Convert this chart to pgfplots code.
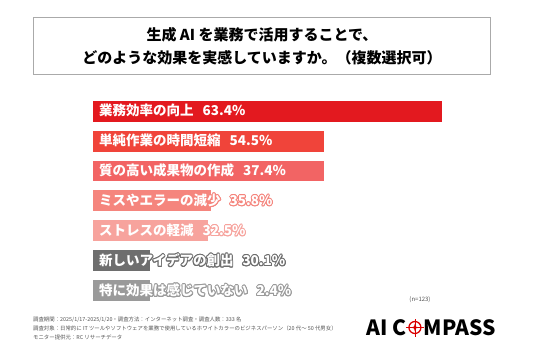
\documentclass[border=0pt]{standalone}
\usepackage{pgfplots}
\pgfplotsset{compat=1.18}
\usepackage{fontspec}
\setmainfont{Noto Sans CJK JP}
\usepackage{contour}
\contourlength{0.9pt}
\contournumber{16}
\definecolor{c1}{HTML}{E3191F}
\definecolor{c2}{HTML}{F0443A}
\definecolor{c3}{HTML}{F26464}
\definecolor{c4}{HTML}{F5857D}
\definecolor{c5}{HTML}{F7A39D}
\definecolor{c6}{HTML}{6E6E6E}
\definecolor{c7}{HTML}{9A9A9A}
\definecolor{boxgray}{HTML}{AAAAAA}
\definecolor{notegray}{HTML}{555555}
\begin{document}
\begin{tikzpicture}
\fill[white] (0,0) rectangle (536pt,357pt);
\path[use as bounding box] (0,0) rectangle (536pt,357pt);
% title box
\draw[boxgray, line width=0.9pt] (33pt,340pt) rectangle (490pt,283pt);
\node[font=\bfseries\fontsize{15}{18}\selectfont, inner sep=0] at (262pt,322pt) {生成 AI を業務で活用することで、};
\node[font=\bfseries\fontsize{15}{18}\selectfont, inner sep=0] at (262pt,299pt) {どのような効果を実感していますか。（複数選択可）};
\begin{axis}[at={(93pt,261pt)}, anchor=north west, scale only axis,
  width=350pt, height=210pt, xmin=0, xmax=350, ymin=-0.5, ymax=6.5,
  y dir=reverse, hide axis, xbar, bar width=0.7, clip=false]
% bar lengths as drawn (px); percentages shown in labels
\addplot[xbar, bar shift=0pt, fill=c1, draw=none] coordinates {(349,0)};
\addplot[xbar, bar shift=0pt, fill=c2, draw=none] coordinates {(231,1)};
\addplot[xbar, bar shift=0pt, fill=c3, draw=none] coordinates {(231,2)};
\addplot[xbar, bar shift=0pt, fill=c4, draw=none] coordinates {(118,3)};
\addplot[xbar, bar shift=0pt, fill=c5, draw=none] coordinates {(115,4)};
\addplot[xbar, bar shift=0pt, fill=c6, draw=none] coordinates {(57,5)};
\addplot[xbar, bar shift=0pt, fill=c7, draw=none] coordinates {(57,6)};
\tikzset{lab/.style={anchor=west, inner sep=0, text=white, font=\bfseries\fontsize{13.5}{14}\selectfont}}
\node[lab] at (axis cs:0,0) {\hspace*{6pt}\contour{c1}{業務効率の向上\hspace{9pt}63.4\%}};
\node[lab] at (axis cs:0,1) {\hspace*{6pt}\contour{c2}{単純作業の時間短縮\hspace{9pt}54.5\%}};
\node[lab] at (axis cs:0,2) {\hspace*{6pt}\contour{c3}{質の高い成果物の作成\hspace{9pt}37.4\%}};
\node[lab] at (axis cs:0,3) {\hspace*{6pt}\contour{c4}{ミスやエラーの減少\hspace{9pt}35.8\%}};
\node[lab] at (axis cs:0,4) {\hspace*{6pt}\contour{c5}{ストレスの軽減\hspace{9pt}32.5\%}};
\node[lab] at (axis cs:0,5) {\hspace*{6pt}\contour{c6}{新しいアイデアの創出\hspace{9pt}30.1\%}};
\node[lab] at (axis cs:0,6) {\hspace*{6pt}\contour{c7}{特に効果は感じていない\hspace{9pt}2.4\%}};
\end{axis}
\node[font=\fontsize{6}{7}\selectfont, inner sep=0, text=notegray] at (420pt,57pt) {(n=123)};
% footer
\begin{scope}[every node/.style={anchor=west, inner sep=0, text=notegray, font=\fontsize{5.4}{6}\selectfont}]
\node at (33pt,37pt) {調査期間：2025/1/17-2025/1/20・調査方法：インターネット調査・調査人数：333 名};
\node at (33pt,28.5pt) {調査対象：日常的に IT ツールやソフトウェアを業務で使用しているホワイトカラーのビジネスパーソン（20 代～ 50 代男女）};
\node at (33pt,20pt) {モニター提供元：RC リサーチデータ};
\end{scope}
% logo
\node[anchor=base west, inner sep=0, font=\bfseries\fontsize{21}{21}\selectfont] (a) at (366pt,22pt) {AI C};
\node[anchor=base west, inner sep=0, font=\bfseries\fontsize{21}{21}\selectfont] (b) at ([xshift=17pt]a.base east) {MPASS};
\begin{scope}[shift={([xshift=8.5pt,yshift=7.5pt]a.base east)}, red!85!black]
\draw[line width=1.3pt] (0,0) circle (6pt);
\draw[line width=0.7pt] (-9pt,0) -- (9pt,0) (0,-9pt) -- (0,9pt);
\fill (0,4pt) -- (1.2pt,0) -- (0,-4pt) -- (-1.2pt,0) -- cycle;
\fill (4pt,0) -- (0,1.2pt) -- (-4pt,0) -- (0,-1.2pt) -- cycle;
\end{scope}
\end{tikzpicture}
\end{document}
